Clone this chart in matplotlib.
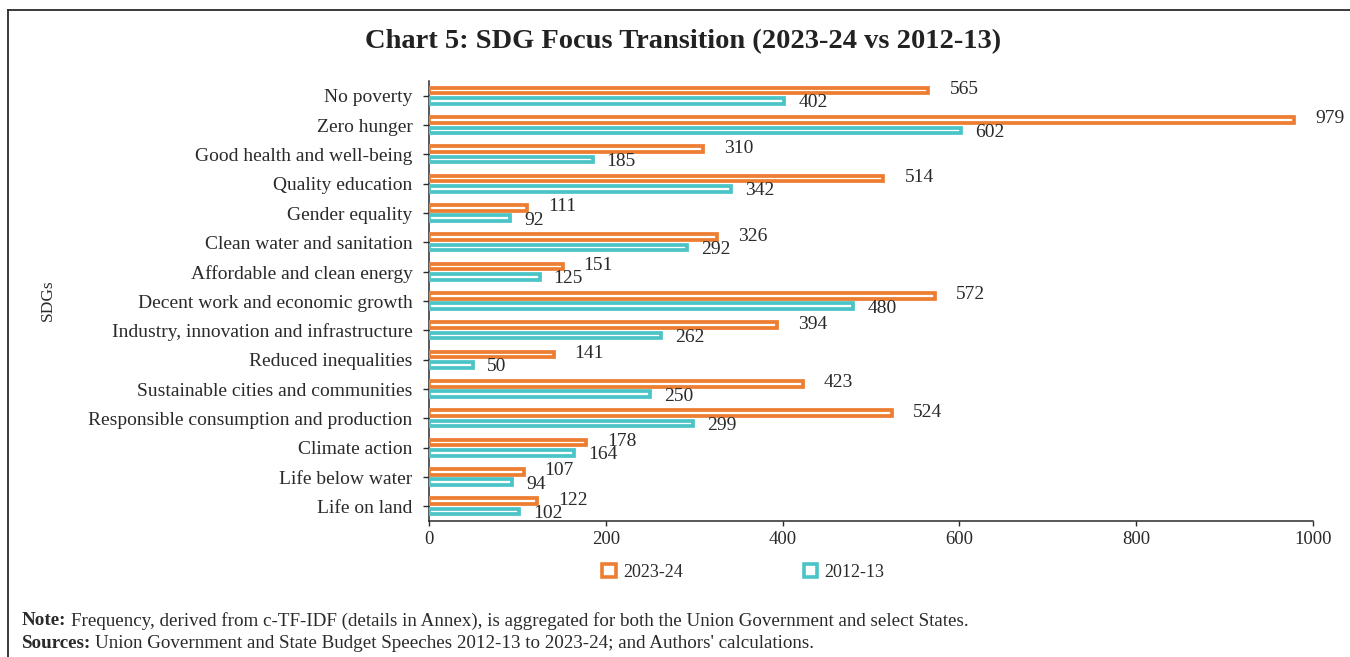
import numpy as np
import matplotlib.pyplot as plt
from matplotlib.patches import Patch
from matplotlib.lines import Line2D

plt.rcParams['font.family'] = ['Liberation Serif', 'DejaVu Serif']

# SDG frequencies, budget speeches
sdgs = [
    "No poverty", "Zero hunger", "Good health and well-being", "Quality education",
    "Gender equality", "Clean water and sanitation", "Affordable and clean energy",
    "Decent work and economic growth", "Industry, innovation and infrastructure",
    "Reduced inequalities", "Sustainable cities and communities",
    "Responsible consumption and production", "Climate action",
    "Life below water", "Life on land",
]
freq_2023 = [565, 979, 310, 514, 111, 326, 151, 572, 394, 141, 423, 524, 178, 107, 122]
freq_2012 = [402, 602, 185, 342, 92, 292, 125, 480, 262, 50, 250, 299, 164, 94, 102]
years = ["2023-24", "2012-13"]

ORANGE = '#ED7D31'
TEAL = '#4BC4C7'
DARK = '#2a2a2a'

fig = plt.figure(figsize=(13.5, 6.57), dpi=100)
ax = fig.add_axes([0.3178, 0.2070, 0.6548, 0.6697])

y = np.arange(len(sdgs))
off = 0.18
h = 0.19
lw = 2.7

for vals, col, sign in [(freq_2023, ORANGE, -1), (freq_2012, TEAL, 1)]:
    ax.barh(y + sign * off, vals, height=h, color='white', edgecolor=col,
            linewidth=lw, joinstyle='miter', zorder=3)

# value labels next to each bar
for i in range(len(sdgs)):
    ax.annotate(str(freq_2023[i]), xy=(freq_2023[i], y[i] - off), xytext=(21, 1),
                textcoords='offset pixels', ha='left', va='center', fontsize=14, color=DARK)
    ax.annotate(str(freq_2012[i]), xy=(freq_2012[i], y[i] + off), xytext=(14, -2),
                textcoords='offset pixels', ha='left', va='center', fontsize=14, color=DARK)

ax.set_ylim(len(sdgs) - 0.5, -0.5)
ax.set_xlim(0, 1000)
ax.set_xticks([0, 200, 400, 600, 800, 1000])
ax.set_yticks(y)
ax.set_yticklabels(sdgs)
ax.tick_params(axis='y', length=4.3, width=1, color=DARK, labelsize=14, pad=7.5, labelcolor=DARK)
ax.tick_params(axis='x', length=3.6, width=1, color=DARK, labelsize=13.5, pad=3.5, labelcolor=DARK)
for s in ['top', 'right']:
    ax.spines[s].set_visible(False)
for s in ['left', 'bottom']:
    ax.spines[s].set_color(DARK)
    ax.spines[s].set_linewidth(1.1)

fig.text(0.506, 0.937, "Chart 5: SDG Focus Transition (2023-24 vs 2012-13)",
         ha='center', va='center', fontsize=20.5, fontweight='bold', color='#222222')
fig.text(0.0356, 0.543, "SDGs", rotation=90, ha='center', va='center', fontsize=12.5, color=DARK)

handles = [Patch(facecolor='white', edgecolor=c, linewidth=2.6, joinstyle='miter')
           for c in (ORANGE, TEAL)]
fig.legend(handles, years, loc='center', bbox_to_anchor=(0.5505, 0.129), ncol=2,
           frameon=False, fontsize=13, handlelength=0.75, handleheight=0.75,
           handletextpad=0.4, columnspacing=6.7, labelcolor=DARK)

# notes below the chart: bold lead-in followed by plain text
notes = [
    ("Note:", "Frequency, derived from c-TF-IDF (details in Annex), is aggregated for both the Union Government and select States.", 0.055),
    ("Sources:", "Union Government and State Budget Speeches 2012-13 to 2023-24; and Authors' calculations.", 0.021),
]
fig.canvas.draw()
r = fig.canvas.get_renderer()
for head, body, yy in notes:
    t = fig.text(0.0163, yy, head, fontweight='bold', fontsize=13.7, va='center', color=DARK)
    w = t.get_window_extent(r).width / fig.bbox.width
    fig.text(0.0163 + w + 0.003, yy, body, fontsize=13.7, va='center', color=DARK)

# frame lines along the top and left edge
bx, by = 8 / 1350, 1 - 10 / 657
fig.add_artist(Line2D([bx, 1], [by, by], transform=fig.transFigure, color=DARK, lw=1.3))
fig.add_artist(Line2D([bx, bx], [0, by], transform=fig.transFigure, color=DARK, lw=1.3))

fig.savefig('out.png', dpi=100)
